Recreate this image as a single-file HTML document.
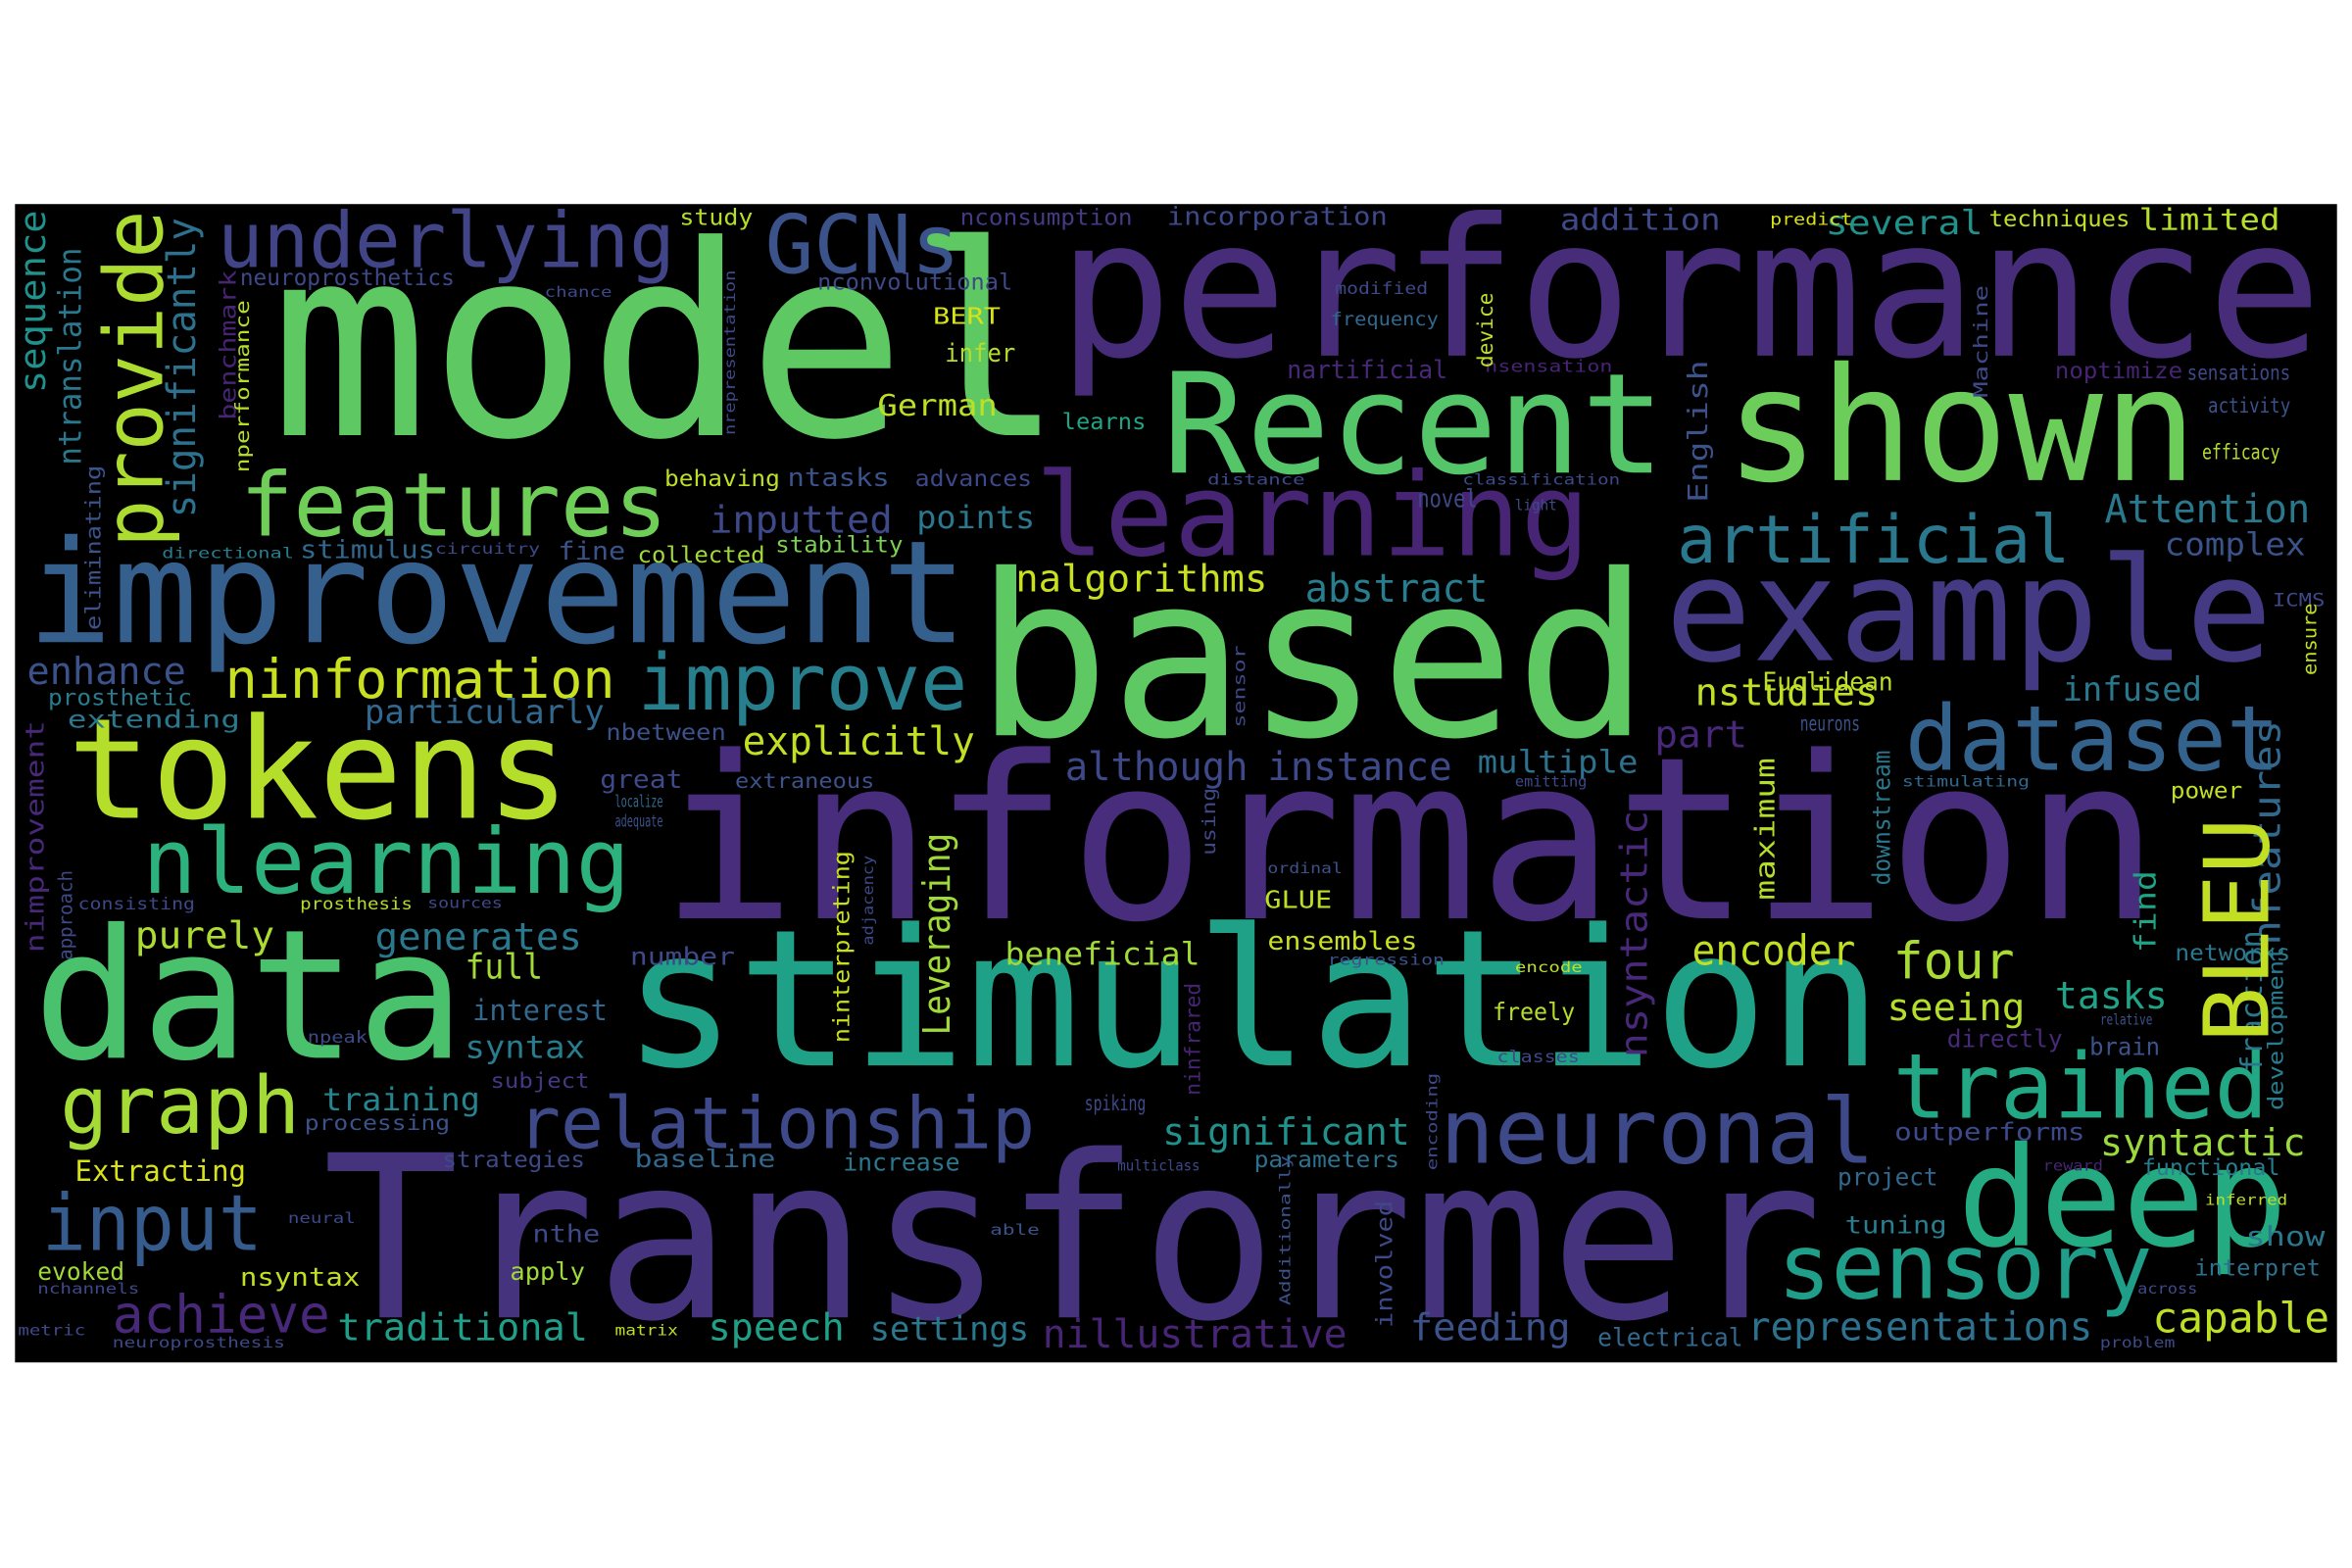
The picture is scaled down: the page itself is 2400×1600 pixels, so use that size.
<!DOCTYPE html>
<html><head><meta charset="utf-8"><style>
html,body{margin:0;padding:0;background:#fff;width:2400px;height:1600px;overflow:hidden}
svg{display:block}
text{font-family:"DejaVu Sans Mono","Liberation Mono",monospace}
</style></head><body>
<svg width="2400" height="1600" viewBox="0 0 1568 1045" preserveAspectRatio="none" xmlns="http://www.w3.org/2000/svg">
<rect x="0" y="0" width="1568" height="1045" fill="#fff"/>
<rect x="10" y="136" width="1548" height="772" fill="#000"/>
<g lengthAdjust="spacingAndGlyphs">
<text x="180" y="290" font-size="177" fill="#5ec962" textLength="530" lengthAdjust="spacingAndGlyphs">model</text>
<text x="705" y="237" font-size="128" fill="#472c7a" textLength="843" lengthAdjust="spacingAndGlyphs">performance</text>
<text x="775" y="315" font-size="93" fill="#54c568" textLength="335" lengthAdjust="spacingAndGlyphs">Recent</text>
<text x="1150" y="320" font-size="105" fill="#6ccd5a" textLength="315" lengthAdjust="spacingAndGlyphs">shown</text>
<text x="690" y="370" font-size="77" fill="#482475" textLength="370" lengthAdjust="spacingAndGlyphs">learning</text>
<text x="18" y="428" font-size="95" fill="#355f8d" textLength="627" lengthAdjust="spacingAndGlyphs">improvement</text>
<text x="650" y="490" font-size="150" fill="#5ec962" textLength="450" lengthAdjust="spacingAndGlyphs">based</text>
<text x="1110" y="440" font-size="96" fill="#443983" textLength="405" lengthAdjust="spacingAndGlyphs">example</text>
<text x="440" y="612" font-size="151" fill="#472d7b" textLength="1000" lengthAdjust="spacingAndGlyphs">information</text>
<text x="45" y="545" font-size="93" fill="#b5de2b" textLength="335" lengthAdjust="spacingAndGlyphs">tokens</text>
<text x="22" y="705" font-size="120" fill="#4ac16d" textLength="288" lengthAdjust="spacingAndGlyphs">data</text>
<text x="415" y="710" font-size="127" fill="#1fa187" textLength="840" lengthAdjust="spacingAndGlyphs">stimulation</text>
<text x="215" y="878" font-size="151" fill="#46337e" textLength="1000" lengthAdjust="spacingAndGlyphs">Transformer</text>
<text x="160" y="357" font-size="59" fill="#6ece58" textLength="285" lengthAdjust="spacingAndGlyphs">features</text>
<text x="145" y="178" font-size="51" fill="#414487" textLength="305" lengthAdjust="spacingAndGlyphs">underlying</text>
<text x="510" y="182" font-size="54" fill="#3b528b" textLength="130" lengthAdjust="spacingAndGlyphs">GCNs</text>
<text x="1118" y="375" font-size="44" fill="#2a788e" textLength="262" lengthAdjust="spacingAndGlyphs">artificial</text>
<text x="1270" y="513" font-size="60" fill="#33638d" textLength="250" lengthAdjust="spacingAndGlyphs">dataset</text>
<text x="1262" y="745" font-size="60" fill="#22a884" textLength="250" lengthAdjust="spacingAndGlyphs">trained</text>
<text x="1305" y="830" font-size="92" fill="#25ab82" textLength="220" lengthAdjust="spacingAndGlyphs">deep</text>
<text x="1185" y="865" font-size="60" fill="#1f9e89" textLength="250" lengthAdjust="spacingAndGlyphs">sensory</text>
<text x="960" y="775" font-size="60" fill="#3e4989" textLength="290" lengthAdjust="spacingAndGlyphs">neuronal</text>
<text x="345" y="765" font-size="48" fill="#3e4989" textLength="345" lengthAdjust="spacingAndGlyphs">relationship</text>
<text x="28" y="833" font-size="52" fill="#365c8d" textLength="147" lengthAdjust="spacingAndGlyphs">input</text>
<text x="40" y="755" font-size="53" fill="#a5db36" textLength="160" lengthAdjust="spacingAndGlyphs">graph</text>
<text x="95" y="595" font-size="60" fill="#2db27d" textLength="325" lengthAdjust="spacingAndGlyphs">nlearning</text>
<text x="150" y="465" font-size="36" fill="#c8e020" textLength="260" lengthAdjust="spacingAndGlyphs">ninformation</text>
<text x="425" y="473" font-size="52" fill="#277f8e" textLength="220" lengthAdjust="spacingAndGlyphs">improve</text>
<text x="75" y="888" font-size="35" fill="#482878" textLength="145" lengthAdjust="spacingAndGlyphs">achieve</text>
<text x="225" y="893" font-size="25" fill="#1f9e89" textLength="167" lengthAdjust="spacingAndGlyphs">traditional</text>
<text x="472" y="893" font-size="25" fill="#1fa187" textLength="91" lengthAdjust="spacingAndGlyphs">speech</text>
<text x="580" y="893" font-size="22" fill="#2a788e" textLength="106" lengthAdjust="spacingAndGlyphs">settings</text>
<text x="695" y="898" font-size="26" fill="#482475" textLength="203" lengthAdjust="spacingAndGlyphs">nillustrative</text>
<text x="940" y="893" font-size="25" fill="#3b528b" textLength="107" lengthAdjust="spacingAndGlyphs">feeding</text>
<text x="1065" y="897" font-size="17" fill="#31688e" textLength="97" lengthAdjust="spacingAndGlyphs">electrical</text>
<text x="1165" y="893" font-size="26" fill="#2c728e" textLength="230" lengthAdjust="spacingAndGlyphs">representations</text>
<text x="1435" y="888" font-size="28" fill="#bddf26" textLength="118" lengthAdjust="spacingAndGlyphs">capable</text>
<text x="1128" y="643" font-size="28" fill="#c2df23" textLength="109" lengthAdjust="spacingAndGlyphs">encoder</text>
<text x="1262" y="652" font-size="34" fill="#a8db34" textLength="81" lengthAdjust="spacingAndGlyphs">four</text>
<text x="1370" y="672" font-size="25" fill="#20a386" textLength="75" lengthAdjust="spacingAndGlyphs">tasks</text>
<text x="1258" y="680" font-size="25" fill="#b5de2b" textLength="92" lengthAdjust="spacingAndGlyphs">seeing</text>
<text x="1400" y="770" font-size="25" fill="#9bd93c" textLength="137" lengthAdjust="spacingAndGlyphs">syntactic</text>
<text x="775" y="763" font-size="25" fill="#21918c" textLength="165" lengthAdjust="spacingAndGlyphs">significant</text>
<text x="250" y="633" font-size="25" fill="#2a788e" textLength="138" lengthAdjust="spacingAndGlyphs">generates</text>
<text x="90" y="632" font-size="25" fill="#addc30" textLength="93" lengthAdjust="spacingAndGlyphs">purely</text>
<text x="310" y="652" font-size="23" fill="#a2da37" textLength="52" lengthAdjust="spacingAndGlyphs">full</text>
<text x="315" y="680" font-size="19" fill="#31688e" textLength="90" lengthAdjust="spacingAndGlyphs">interest</text>
<text x="310" y="705" font-size="21" fill="#287c8e" textLength="80" lengthAdjust="spacingAndGlyphs">syntax</text>
<text x="215" y="740" font-size="21" fill="#25848e" textLength="105" lengthAdjust="spacingAndGlyphs">training</text>
<text x="50" y="787" font-size="19" fill="#d8e219" textLength="114" lengthAdjust="spacingAndGlyphs">Extracting</text>
<text x="495" y="503" font-size="26" fill="#c2df23" textLength="155" lengthAdjust="spacingAndGlyphs">explicitly</text>
<text x="710" y="520" font-size="26" fill="#3e4989" textLength="122" lengthAdjust="spacingAndGlyphs">although</text>
<text x="845" y="520" font-size="26" fill="#3e4989" textLength="123" lengthAdjust="spacingAndGlyphs">instance</text>
<text x="985" y="515" font-size="21" fill="#2c728e" textLength="107" lengthAdjust="spacingAndGlyphs">multiple</text>
<text x="1103" y="498" font-size="25" fill="#482878" textLength="62" lengthAdjust="spacingAndGlyphs">part</text>
<text x="1130" y="470" font-size="25" fill="#c2df23" textLength="122" lengthAdjust="spacingAndGlyphs">nstudies</text>
<text x="1375" y="467" font-size="22" fill="#2a788e" textLength="93" lengthAdjust="spacingAndGlyphs">infused</text>
<text x="1175" y="460" font-size="17" fill="#bddf26" textLength="87" lengthAdjust="spacingAndGlyphs">Euclidean</text>
<text x="1403" y="348" font-size="26" fill="#2a788e" textLength="137" lengthAdjust="spacingAndGlyphs">Attention</text>
<text x="1443" y="370" font-size="21" fill="#3b528b" textLength="94" lengthAdjust="spacingAndGlyphs">complex</text>
<text x="870" y="401" font-size="26" fill="#287d8e" textLength="122" lengthAdjust="spacingAndGlyphs">abstract</text>
<text x="677" y="394" font-size="25" fill="#c8e020" textLength="168" lengthAdjust="spacingAndGlyphs">nalgorithms</text>
<text x="473" y="355" font-size="25" fill="#3e4989" textLength="122" lengthAdjust="spacingAndGlyphs">inputted</text>
<text x="611" y="352" font-size="21" fill="#2a788e" textLength="79" lengthAdjust="spacingAndGlyphs">points</text>
<text x="18" y="456" font-size="25" fill="#3b528b" textLength="106" lengthAdjust="spacingAndGlyphs">enhance</text>
<text x="32" y="470" font-size="15" fill="#287c8e" textLength="96" lengthAdjust="spacingAndGlyphs">prosthetic</text>
<text x="243" y="482" font-size="22" fill="#31688e" textLength="160" lengthAdjust="spacingAndGlyphs">particularly</text>
<text x="585" y="277" font-size="20" fill="#bddf26" textLength="80" lengthAdjust="spacingAndGlyphs">German</text>
<text x="622" y="216" font-size="15" fill="#d8e219" textLength="45" lengthAdjust="spacingAndGlyphs">BERT</text>
<text x="630" y="241" font-size="17" fill="#b5de2b" textLength="47" lengthAdjust="spacingAndGlyphs">infer</text>
<text x="1217" y="156" font-size="22" fill="#21918c" textLength="105" lengthAdjust="spacingAndGlyphs">several</text>
<text x="1326" y="151" font-size="15" fill="#bddf26" textLength="94" lengthAdjust="spacingAndGlyphs">techniques</text>
<text x="1426" y="153" font-size="20" fill="#b5de2b" textLength="94" lengthAdjust="spacingAndGlyphs">limited</text>
<text x="1040" y="153" font-size="20" fill="#3e4989" textLength="107" lengthAdjust="spacingAndGlyphs">addition</text>
<text x="453" y="150" font-size="15" fill="#b5de2b" textLength="49" lengthAdjust="spacingAndGlyphs">study</text>
<text x="640" y="150" font-size="15" fill="#443983" textLength="115" lengthAdjust="spacingAndGlyphs">nconsumption</text>
<text x="778" y="150" font-size="17" fill="#3e4989" textLength="147" lengthAdjust="spacingAndGlyphs">incorporation</text>
<text x="160" y="190" font-size="15" fill="#3e4989" textLength="143" lengthAdjust="spacingAndGlyphs">neuroprosthetics</text>
<text x="545" y="193" font-size="15" fill="#3e4989" textLength="130" lengthAdjust="spacingAndGlyphs">nconvolutional</text>
<text x="858" y="252" font-size="17" fill="#482878" textLength="107" lengthAdjust="spacingAndGlyphs">nartificial</text>
<text x="1370" y="252" font-size="15" fill="#482475" textLength="85" lengthAdjust="spacingAndGlyphs">noptimize</text>
<text x="1458" y="253" font-size="14" fill="#3e4989" textLength="69" lengthAdjust="spacingAndGlyphs">sensations</text>
<text x="1472" y="275" font-size="14" fill="#3b528b" textLength="55" lengthAdjust="spacingAndGlyphs">activity</text>
<text x="1468" y="306" font-size="14" fill="#b5de2b" textLength="52" lengthAdjust="spacingAndGlyphs">efficacy</text>
<text x="708" y="286" font-size="15" fill="#20a486" textLength="56" lengthAdjust="spacingAndGlyphs">learns</text>
<text x="525" y="324" font-size="17" fill="#3b528b" textLength="68" lengthAdjust="spacingAndGlyphs">ntasks</text>
<text x="610" y="324" font-size="15" fill="#3e4989" textLength="78" lengthAdjust="spacingAndGlyphs">advances</text>
<text x="443" y="324" font-size="15" fill="#bddf26" textLength="77" lengthAdjust="spacingAndGlyphs">behaving</text>
<text x="200" y="372" font-size="17" fill="#31688e" textLength="90" lengthAdjust="spacingAndGlyphs">stimulus</text>
<text x="108" y="372" font-size="10" fill="#287c8e" textLength="88" lengthAdjust="spacingAndGlyphs">directional</text>
<text x="290" y="369" font-size="10" fill="#3e4989" textLength="70" lengthAdjust="spacingAndGlyphs">circuitry</text>
<text x="425" y="375" font-size="15" fill="#a0da39" textLength="85" lengthAdjust="spacingAndGlyphs">collected</text>
<text x="517" y="368" font-size="15" fill="#7ad151" textLength="85" lengthAdjust="spacingAndGlyphs">stability</text>
<text x="372" y="373" font-size="17" fill="#3b528b" textLength="45" lengthAdjust="spacingAndGlyphs">fine</text>
<text x="404" y="493" font-size="15" fill="#3b528b" textLength="80" lengthAdjust="spacingAndGlyphs">nbetween</text>
<text x="400" y="525" font-size="17" fill="#3e4989" textLength="55" lengthAdjust="spacingAndGlyphs">great</text>
<text x="490" y="525" font-size="14" fill="#3b528b" textLength="93" lengthAdjust="spacingAndGlyphs">extraneous</text>
<text x="45" y="485" font-size="16" fill="#2a788e" textLength="115" lengthAdjust="spacingAndGlyphs">extending</text>
<text x="843" y="605" font-size="16" fill="#bddf26" textLength="45" lengthAdjust="spacingAndGlyphs">GLUE</text>
<text x="845" y="633" font-size="17" fill="#c8e020" textLength="100" lengthAdjust="spacingAndGlyphs">ensembles</text>
<text x="670" y="643" font-size="21" fill="#a0da39" textLength="130" lengthAdjust="spacingAndGlyphs">beneficial</text>
<text x="420" y="643" font-size="16" fill="#3e4989" textLength="70" lengthAdjust="spacingAndGlyphs">number</text>
<text x="995" y="680" font-size="16" fill="#b5de2b" textLength="55" lengthAdjust="spacingAndGlyphs">freely</text>
<text x="1450" y="640" font-size="15" fill="#2a788e" textLength="77" lengthAdjust="spacingAndGlyphs">networks</text>
<text x="1393" y="703" font-size="16" fill="#3b528b" textLength="47" lengthAdjust="spacingAndGlyphs">brain</text>
<text x="1298" y="698" font-size="16" fill="#482878" textLength="77" lengthAdjust="spacingAndGlyphs">directly</text>
<text x="1263" y="760" font-size="16" fill="#3e4989" textLength="127" lengthAdjust="spacingAndGlyphs">outperforms</text>
<text x="1428" y="783" font-size="15" fill="#287c8e" textLength="92" lengthAdjust="spacingAndGlyphs">functional</text>
<text x="1225" y="790" font-size="16" fill="#31688e" textLength="67" lengthAdjust="spacingAndGlyphs">project</text>
<text x="1230" y="822" font-size="16" fill="#287d8e" textLength="68" lengthAdjust="spacingAndGlyphs">tuning</text>
<text x="1497" y="830" font-size="18" fill="#2a788e" textLength="53" lengthAdjust="spacingAndGlyphs">show</text>
<text x="1463" y="850" font-size="15" fill="#2c728e" textLength="84" lengthAdjust="spacingAndGlyphs">interpret</text>
<text x="1447" y="532" font-size="15" fill="#c2df23" textLength="48" lengthAdjust="spacingAndGlyphs">power</text>
<text x="355" y="828" font-size="16" fill="#3e4989" textLength="45" lengthAdjust="spacingAndGlyphs">nthe</text>
<text x="160" y="857" font-size="17" fill="#c2df23" textLength="80" lengthAdjust="spacingAndGlyphs">nsyntax</text>
<text x="340" y="853" font-size="16" fill="#a0da39" textLength="50" lengthAdjust="spacingAndGlyphs">apply</text>
<text x="25" y="853" font-size="16" fill="#a0da39" textLength="58" lengthAdjust="spacingAndGlyphs">evoked</text>
<text x="562" y="780" font-size="16" fill="#2a788e" textLength="78" lengthAdjust="spacingAndGlyphs">increase</text>
<text x="423" y="778" font-size="16" fill="#31688e" textLength="94" lengthAdjust="spacingAndGlyphs">baseline</text>
<text x="295" y="778" font-size="15" fill="#3e4989" textLength="95" lengthAdjust="spacingAndGlyphs">strategies</text>
<text x="836" y="778" font-size="15" fill="#2c728e" textLength="97" lengthAdjust="spacingAndGlyphs">parameters</text>
<text x="723" y="740" font-size="14" fill="#3e4989" textLength="41" lengthAdjust="spacingAndGlyphs">spiking</text>
<text x="327" y="725" font-size="14" fill="#443983" textLength="66" lengthAdjust="spacingAndGlyphs">subject</text>
<text x="203" y="753" font-size="14" fill="#3b528b" textLength="97" lengthAdjust="spacingAndGlyphs">processing</text>
<text x="1240" y="532" font-size="13" fill="#3b528b" textLength="1" lengthAdjust="spacingAndGlyphs"> </text>
<text x="1200" y="487" font-size="14" fill="#3b528b" textLength="40" lengthAdjust="spacingAndGlyphs">neurons</text>
<text x="945" y="338" font-size="17" fill="#3e4989" textLength="40" lengthAdjust="spacingAndGlyphs">novel</text>
<text x="887" y="217" font-size="12" fill="#31688e" textLength="72" lengthAdjust="spacingAndGlyphs">frequency</text>
<text x="890" y="196" font-size="11" fill="#3e4989" textLength="62" lengthAdjust="spacingAndGlyphs">modified</text>
<text x="990" y="248" font-size="11" fill="#482475" textLength="85" lengthAdjust="spacingAndGlyphs">nsensation</text>
<text x="1180" y="150" font-size="11" fill="#d8e219" textLength="55" lengthAdjust="spacingAndGlyphs">predict</text>
<text x="1410" y="525" font-size="10" fill="#287c8e" textLength="0.1" lengthAdjust="spacingAndGlyphs"> </text>
<text x="1268" y="524" font-size="10" fill="#31688e" textLength="85" lengthAdjust="spacingAndGlyphs">stimulating</text>
<text x="1010" y="524" font-size="10" fill="#3e4989" textLength="48" lengthAdjust="spacingAndGlyphs">emitting</text>
<text x="410" y="538" font-size="11" fill="#31688e" textLength="32" lengthAdjust="spacingAndGlyphs">localize</text>
<text x="410" y="551" font-size="11" fill="#3b528b" textLength="32" lengthAdjust="spacingAndGlyphs">adequate</text>
<text x="52" y="606" font-size="11" fill="#3e4989" textLength="78" lengthAdjust="spacingAndGlyphs">consisting</text>
<text x="200" y="606" font-size="11" fill="#b5de2b" textLength="75" lengthAdjust="spacingAndGlyphs">prosthesis</text>
<text x="205" y="695" font-size="11" fill="#3e4989" textLength="40" lengthAdjust="spacingAndGlyphs">npeak</text>
<text x="25" y="862" font-size="10" fill="#3e4989" textLength="68" lengthAdjust="spacingAndGlyphs">nchannels</text>
<text x="75" y="898" font-size="10" fill="#3e4989" textLength="115" lengthAdjust="spacingAndGlyphs">neuroprosthesis</text>
<text x="998" y="708" font-size="11" fill="#3e4989" textLength="55" lengthAdjust="spacingAndGlyphs">classes</text>
<text x="1400" y="683" font-size="10" fill="#3b528b" textLength="35" lengthAdjust="spacingAndGlyphs">relative</text>
<text x="1470" y="803" font-size="10" fill="#bddf26" textLength="55" lengthAdjust="spacingAndGlyphs">inferred</text>
<text x="1400" y="898" font-size="10" fill="#3e4989" textLength="50" lengthAdjust="spacingAndGlyphs">problem</text>
<text x="1515" y="404" font-size="12" fill="#3e4989" textLength="35" lengthAdjust="spacingAndGlyphs">ICMS</text>
<text x="1362" y="780" font-size="10" fill="#482475" textLength="40" lengthAdjust="spacingAndGlyphs">reward</text>
<text x="1010" y="648" font-size="10" fill="#bddf26" textLength="45" lengthAdjust="spacingAndGlyphs">encode</text>
<text x="745" y="780" font-size="10" fill="#3e4989" textLength="55" lengthAdjust="spacingAndGlyphs">multiclass</text>
<text x="885" y="643" font-size="10" fill="#3b528b" textLength="78" lengthAdjust="spacingAndGlyphs">regression</text>
<text x="12" y="890" font-size="10" fill="#3e4989" textLength="45" lengthAdjust="spacingAndGlyphs">metric</text>
<text x="410" y="890" font-size="10" fill="#bddf26" textLength="42" lengthAdjust="spacingAndGlyphs">matrix</text>
<text x="1425" y="862" font-size="10" fill="#3e4989" textLength="40" lengthAdjust="spacingAndGlyphs">across</text>
<text x="660" y="823" font-size="10" fill="#3b528b" textLength="33" lengthAdjust="spacingAndGlyphs">able</text>
<text x="192" y="815" font-size="10" fill="#3e4989" textLength="45" lengthAdjust="spacingAndGlyphs">neural</text>
<text x="363" y="198" font-size="10" fill="#3e4989" textLength="45" lengthAdjust="spacingAndGlyphs">chance</text>
<text x="805" y="323" font-size="10" fill="#3e4989" textLength="65" lengthAdjust="spacingAndGlyphs">distance</text>
<text x="975" y="323" font-size="10" fill="#3e4989" textLength="105" lengthAdjust="spacingAndGlyphs">classification</text>
<text x="845" y="582" font-size="10" fill="#3b528b" textLength="50" lengthAdjust="spacingAndGlyphs">ordinal</text>
<text x="1015" y="342" font-size="10" fill="#3e4989" textLength="1" lengthAdjust="spacingAndGlyphs"> </text>
<text x="1010" y="340" font-size="10" fill="#3e4989" textLength="28" lengthAdjust="spacingAndGlyphs">light</text>
<text x="285" y="605" font-size="10" fill="#3e4989" textLength="50" lengthAdjust="spacingAndGlyphs">sources</text>
</g>
<!-- vertical words -->
<g>
<text transform="translate(108,365) rotate(-90)" font-size="54" fill="#addc30" textLength="225" lengthAdjust="spacingAndGlyphs">provide</text>
<text transform="translate(130,345) rotate(-90)" font-size="26" fill="#2c728e" textLength="200" lengthAdjust="spacingAndGlyphs">significantly</text>
<text transform="translate(30,262) rotate(-90)" font-size="24" fill="#21918c" textLength="122" lengthAdjust="spacingAndGlyphs">sequence</text>
<text transform="translate(54,310) rotate(-90)" font-size="21" fill="#2a788e" textLength="145" lengthAdjust="spacingAndGlyphs">ntranslation</text>
<text transform="translate(157,280) rotate(-90)" font-size="15" fill="#482475" textLength="100" lengthAdjust="spacingAndGlyphs">benchmark</text>
<text transform="translate(166,315) rotate(-90)" font-size="13" fill="#b5de2b" textLength="115" lengthAdjust="spacingAndGlyphs">nperformance</text>
<text transform="translate(67,420) rotate(-90)" font-size="14" fill="#3b528b" textLength="110" lengthAdjust="spacingAndGlyphs">eliminating</text>
<text transform="translate(29,635) rotate(-90)" font-size="17" fill="#482878" textLength="155" lengthAdjust="spacingAndGlyphs">nimprovement</text>
<text transform="translate(48,640) rotate(-90)" font-size="13" fill="#3e4989" textLength="60" lengthAdjust="spacingAndGlyphs">approach</text>
<text transform="translate(633,690) rotate(-90)" font-size="25" fill="#a0da39" textLength="135" lengthAdjust="spacingAndGlyphs">Leveraging</text>
<text transform="translate(566,695) rotate(-90)" font-size="15" fill="#c8e020" textLength="128" lengthAdjust="spacingAndGlyphs">ninterpreting</text>
<text transform="translate(582,630) rotate(-90)" font-size="10" fill="#3e4989" textLength="60" lengthAdjust="spacingAndGlyphs">adjacency</text>
<text transform="translate(1098,705) rotate(-90)" font-size="25" fill="#482878" textLength="165" lengthAdjust="spacingAndGlyphs">nsyntactic</text>
<text transform="translate(1183,600) rotate(-90)" font-size="18" fill="#b5de2b" textLength="95" lengthAdjust="spacingAndGlyphs">maximum</text>
<text transform="translate(1260,590) rotate(-90)" font-size="16" fill="#2a788e" textLength="90" lengthAdjust="spacingAndGlyphs">downstream</text>
<text transform="translate(1520,630) rotate(-90)" font-size="25" fill="#31688e" textLength="150" lengthAdjust="spacingAndGlyphs">nfeatures</text>
<text transform="translate(1508,715) rotate(-90)" font-size="20" fill="#2a788e" textLength="95" lengthAdjust="spacingAndGlyphs">fraction</text>
<text transform="translate(1522,740) rotate(-90)" font-size="14" fill="#287c8e" textLength="110" lengthAdjust="spacingAndGlyphs">development</text>
<text transform="translate(1437,635) rotate(-90)" font-size="20" fill="#20a486" textLength="55" lengthAdjust="spacingAndGlyphs">find</text>
<text transform="translate(1512,695) rotate(-90)" font-size="60" fill="#c2df23" textLength="150" lengthAdjust="spacingAndGlyphs">BLEU</text>
<text transform="translate(1138,335) rotate(-90)" font-size="18" fill="#3b528b" textLength="95" lengthAdjust="spacingAndGlyphs">English</text>
<text transform="translate(1325,265) rotate(-90)" font-size="13" fill="#3e4989" textLength="75" lengthAdjust="spacingAndGlyphs">Machine</text>
<text transform="translate(995,245) rotate(-90)" font-size="14" fill="#bddf26" textLength="50" lengthAdjust="spacingAndGlyphs">device</text>
<text transform="translate(1544,450) rotate(-90)" font-size="13" fill="#c2df23" textLength="48" lengthAdjust="spacingAndGlyphs">ensure</text>
<text transform="translate(830,485) rotate(-90)" font-size="11" fill="#3e4989" textLength="55" lengthAdjust="spacingAndGlyphs">sensor</text>
<text transform="translate(810,570) rotate(-90)" font-size="12" fill="#3e4989" textLength="45" lengthAdjust="spacingAndGlyphs">using</text>
<text transform="translate(800,730) rotate(-90)" font-size="14" fill="#482475" textLength="75" lengthAdjust="spacingAndGlyphs">ninfrared</text>
<text transform="translate(928,885) rotate(-90)" font-size="15" fill="#3e4989" textLength="85" lengthAdjust="spacingAndGlyphs">involved</text>
<text transform="translate(860,870) rotate(-90)" font-size="10" fill="#3b528b" textLength="100" lengthAdjust="spacingAndGlyphs">Additionally</text>
<text transform="translate(958,780) rotate(-90)" font-size="10" fill="#3e4989" textLength="65" lengthAdjust="spacingAndGlyphs">encoding</text>
<text transform="translate(490,290) rotate(-90)" font-size="10" fill="#3e4989" textLength="110" lengthAdjust="spacingAndGlyphs">nrepresentation</text>
</g>
</svg>
</body></html>
